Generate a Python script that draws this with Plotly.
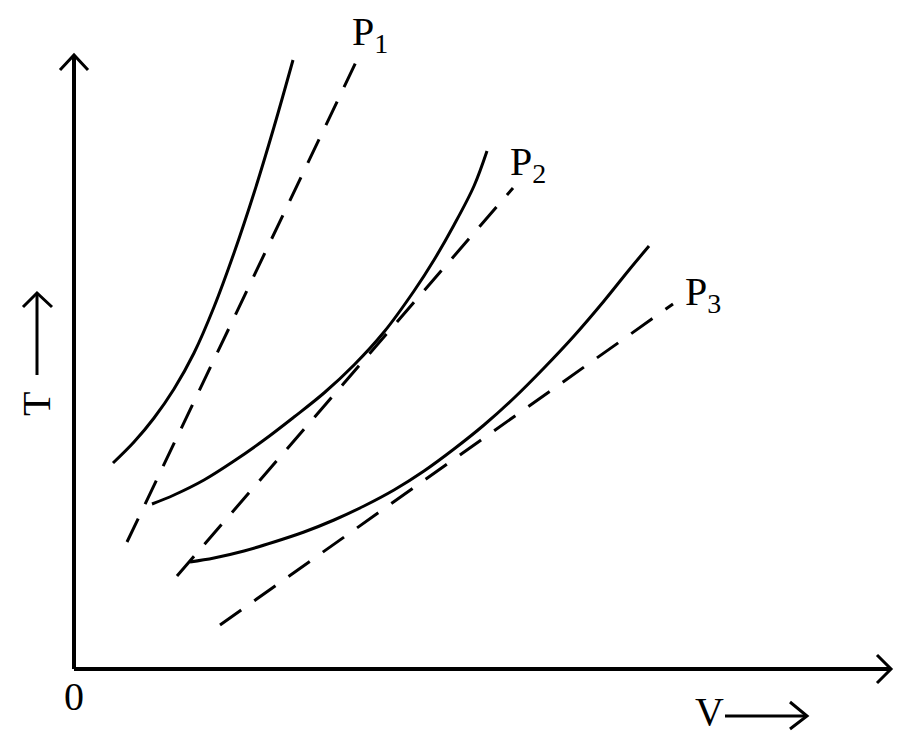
import plotly.graph_objects as go

# Solid isobar curves (V, T) in arbitrary units
v1 = [0.39, 0.60, 0.80, 1.00, 1.20, 1.40, 1.60, 1.80, 2.00, 2.19]
t1 = [2.06, 2.27, 2.51, 2.80, 3.16, 3.62, 4.16, 4.76, 5.42, 6.09]

v2 = [0.78, 1.00, 1.30, 1.60, 1.90, 2.20, 2.50, 2.80, 3.10, 3.40, 3.60, 3.80, 4.00, 4.13]
t2 = [1.65, 1.74, 1.89, 2.08, 2.29, 2.52, 2.76, 3.04, 3.37, 3.78, 4.09, 4.44, 4.83, 5.18]

v3 = [1.16, 1.40, 1.70, 2.00, 2.30, 2.60, 2.90, 3.20, 3.50, 3.80, 4.10, 4.40, 4.70, 5.00, 5.30, 5.55, 5.75]
t3 = [1.07, 1.11, 1.18, 1.27, 1.37, 1.49, 1.63, 1.79, 1.98, 2.20, 2.44, 2.71, 3.01, 3.33, 3.68, 3.99, 4.23]

# Dashed straight lines
dv1 = [0.53, 2.82]
dt1 = [1.27, 6.07]
dv2 = [1.03, 4.39]
dt2 = [0.93, 4.81]
dv3 = [1.46, 5.99]
dt3 = [0.44, 3.65]

labels = ["P<sub>1</sub>", "P<sub>2</sub>", "P<sub>3</sub>"]
label_v = [2.76, 4.34, 6.09]
label_t = [6.35, 5.05, 3.75]

x_axis_end = 8.17
y_axis_end = 6.14

fig = go.Figure()

for v, t in [(v1, t1), (v2, t2), (v3, t3)]:
    fig.add_trace(go.Scatter(x=v, y=t, mode="lines", line=dict(color="black", width=3, shape="spline"),
                             showlegend=False, hoverinfo="skip"))

for v, t in [(dv1, dt1), (dv2, dt2), (dv3, dt3)]:
    fig.add_trace(go.Scatter(x=v, y=t, mode="lines", line=dict(color="black", width=3, dash="26px,16px"),
                             showlegend=False, hoverinfo="skip"))

font = dict(family="Liberation Serif, Times New Roman, serif", size=40, color="black")

for txt, lv, lt in zip(labels, label_v, label_t):
    fig.add_annotation(x=lv, y=lt, text=txt, showarrow=False, xanchor="left", yanchor="middle", font=font)

fig.add_annotation(x=0.0, y=-0.27, text="0", showarrow=False, xanchor="center", yanchor="middle", font=font)
fig.add_annotation(x=6.35, y=-0.42, text="V", showarrow=False, xanchor="center", yanchor="middle", font=font)
fig.add_annotation(x=-0.38, y=2.65, text="T", showarrow=False, xanchor="center", yanchor="middle",
                   textangle=-90, font=font)

# Axes with open arrowheads
axis_line = dict(color="black", width=4)
head_line = dict(color="black", width=3)
fig.add_shape(type="line", x0=0, y0=0, x1=x_axis_end, y1=0, line=axis_line)
fig.add_shape(type="line", x0=0, y0=0, x1=0, y1=y_axis_end, line=axis_line)
fig.add_shape(type="path", path=f"M {x_axis_end-0.14},0.14 L {x_axis_end},0 L {x_axis_end-0.14},-0.14",
              line=head_line)
fig.add_shape(type="path", path=f"M -0.14,{y_axis_end-0.15} L 0,{y_axis_end} L 0.14,{y_axis_end-0.15}",
              line=head_line)

# Label arrows (V -> and T ->)
fig.add_shape(type="line", x0=6.51, y0=-0.47, x1=7.33, y1=-0.47, line=head_line)
fig.add_shape(type="path", path="M 7.16,-0.33 L 7.33,-0.47 L 7.16,-0.60", line=head_line)
fig.add_shape(type="line", x0=-0.37, y0=2.94, x1=-0.37, y1=3.76, line=head_line)
fig.add_shape(type="path", path="M -0.51,3.62 L -0.37,3.76 L -0.22,3.62", line=head_line)

fig.update_layout(
    width=900, height=741,
    margin=dict(l=0, r=0, t=0, b=0),
    paper_bgcolor="white", plot_bgcolor="white",
    xaxis=dict(range=[-0.74, 8.26], visible=False, fixedrange=True),
    yaxis=dict(range=[-0.72, 6.69], visible=False, fixedrange=True),
)

fig.write_html("out.html", config={"displayModeBar": False},
               post_script="document.body.style.margin='0';document.body.style.overflow='hidden';")
